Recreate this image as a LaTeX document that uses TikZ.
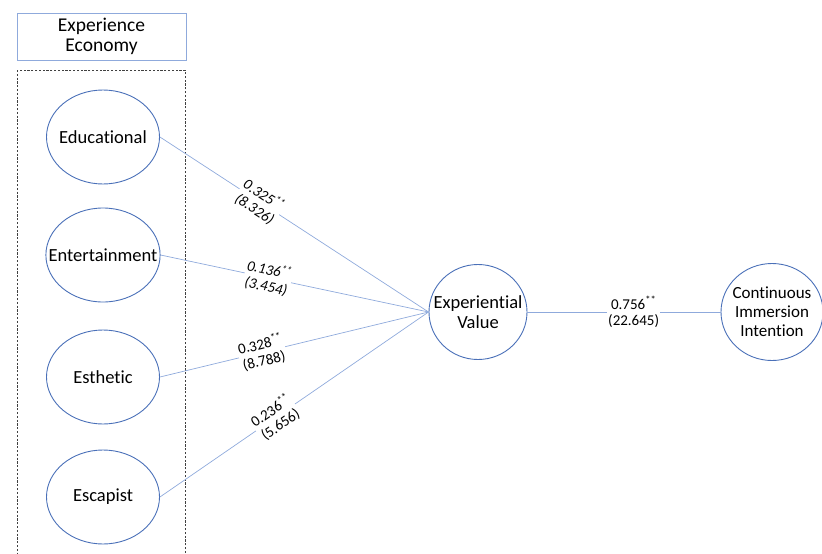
\documentclass[tikz,border=0pt]{standalone}
\usepackage{fontspec}
\setmainfont{Carlito}[Ligatures=NoCommon]
\usetikzlibrary{shapes,positioning}

\definecolor{ringblue}{HTML}{4A70B8}
\definecolor{pathblue}{HTML}{8FAADC}

\tikzset{
  construct/.style={draw=ringblue, line width=0.9pt, ellipse, inner xsep=-14pt, inner ysep=0pt,
    minimum width=113pt, minimum height=94pt, align=center,
    font=\fontsize{18.5}{20}\selectfont},
  path line/.style={draw=pathblue, line width=0.7pt},
  coef/.style={fill=white, inner sep=1pt, anchor=center, align=center, sloped,
    font=\fontsize{15}{16.5}\selectfont},
  coef it/.style={coef, font=\fontsize{15}{16.5}\selectfont\itshape}
}

\begin{document}
\begin{tikzpicture}[x=1pt, y=-1pt, node distance=120pt, auto]
    \useasboundingbox (0,0) rectangle (822,554);
    % group heading and frame
    \node [draw=pathblue, line width=0.9pt, minimum width=169pt, minimum height=47pt, inner sep=0pt, align=center, font=\fontsize{19.5}{19.5}\selectfont] (econ) at (101.5,36.5) {Experience\\Economy};
    \draw [dash pattern=on 2.2pt off 1.6pt, line width=0.8pt, black!75] (17,70) rectangle (185,560);
    % the four realms
    \node [construct] (edu) at (103,137) {Educational};
    \node [construct, below of=edu, node distance=118pt] (ent) {Entertainment};
    \node [construct, below of=ent, node distance=122pt] (est) {Esthetic};
    \node [construct, below of=est] (esc) {Escapist};
    % outcomes
    \node [construct, minimum width=98pt, minimum height=95pt] (ev) at (478,312) {Experiential\\Value};
    \node [construct, minimum width=102pt, minimum height=97pt, font=\fontsize{17}{19}\selectfont] (cii) at (772,312) {Continuous\\Immersion\\Intention};
    % paths
    \draw [path line] (edu.east) -- node [coef it, pos=0.37] {0.325\textsuperscript{**}\\(8.326)} (ev.west);
    \draw [path line] (ent.east) -- node [coef it, pos=0.40] {0.136\textsuperscript{**}\\(3.454)} (ev.west);
    \draw [path line] (est.east) -- node [coef, pos=0.38] {0.328\textsuperscript{**}\\(8.788)} (ev.west);
    \draw [path line] (esc.east) -- node [coef, pos=0.43] {0.236\textsuperscript{**}\\(5.656)} (ev.west);
    \draw [path line] (ev.east) -- node [coef, pos=0.55] {0.756\textsuperscript{**}\\(22.645)} (cii.west);
  \end{tikzpicture}
\end{document}
